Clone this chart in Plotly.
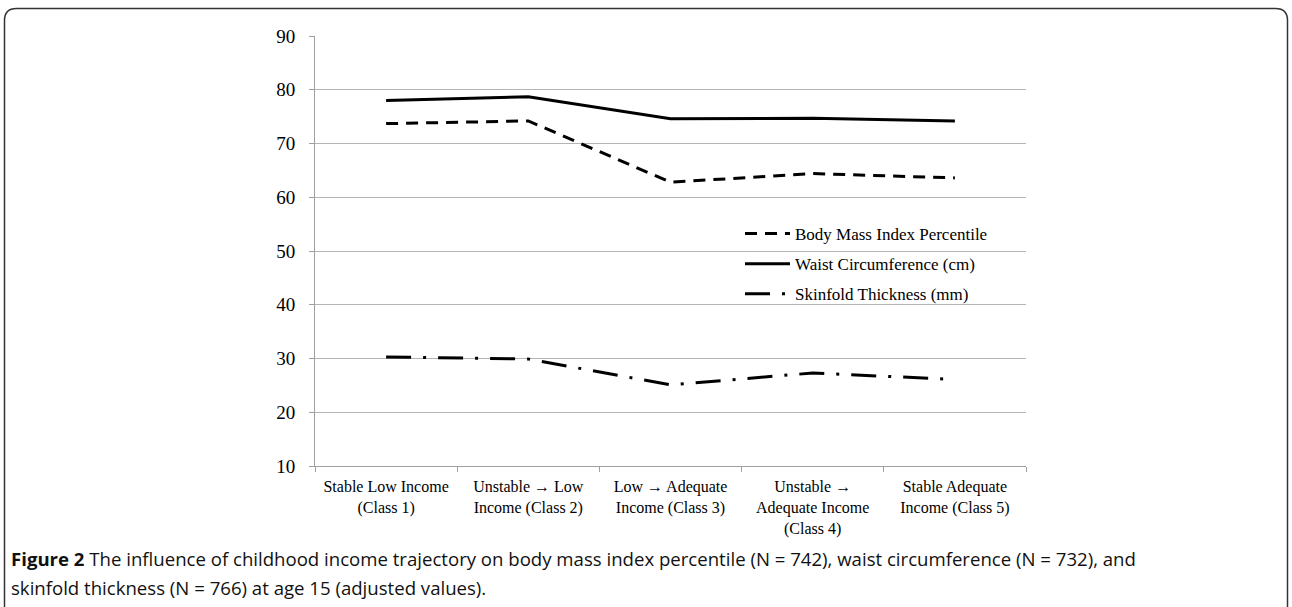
import plotly.graph_objects as go

categories = ["Stable Low Income<br>(Class 1)", "Unstable → Low<br>Income (Class 2)",
              "Low → Adequate<br>Income (Class 3)", "Unstable →<br>Adequate Income<br>(Class 4)",
              "Stable Adequate<br>Income (Class 5)"]
bmi = [73.7, 74.2, 62.8, 64.4, 63.6]
waist = [78.0, 78.7, 74.6, 74.7, 74.2]
skinfold = [30.3, 29.9, 25.1, 27.3, 26.1]

W, H = 1292, 607
L, R, T, B = 315, 1026, 36, 466
def px(x): return (x - L) / (R - L)
def py(y): return (B - y) / (B - T)

fig = go.Figure()
fig.add_trace(go.Scatter(x=categories, y=bmi, mode="lines", name="Body Mass Index Percentile",
                         legendgroup="a",
                         line=dict(color="black", width=3, dash="12px,8px")))
fig.add_trace(go.Scatter(x=categories, y=waist, mode="lines", name="Waist Circumference (cm)",
                         legendgroup="b",
                         line=dict(color="black", width=3)))
fig.add_trace(go.Scatter(x=categories, y=skinfold, mode="lines", name="Skinfold Thickness (mm)",
                         legendgroup="c",
                         line=dict(color="black", width=3, dash="25px,12px,3px,12px")))

serif = "Liberation Serif, Times New Roman, serif"
fig.update_layout(
    width=W, height=H,
    margin=dict(l=L, r=W - R, t=T, b=H - B),
    paper_bgcolor="white", plot_bgcolor="white",
    font=dict(family=serif, color="black"),
    showlegend=True,
    legend=dict(x=px(740), y=py(216), xanchor="left", yanchor="top",
                bgcolor="rgba(0,0,0,0)", font=dict(family=serif, size=17, color="black"),
                tracegroupgap=5, itemwidth=45),
    xaxis=dict(type="category", showline=True, linecolor="#a0a0a0", linewidth=1,
               ticks="outside", tickson="boundaries", ticklen=5, tickcolor="#a0a0a0",
               showgrid=False, tickfont=dict(family=serif, size=16, color="black"),
               ticklabelstandoff=6, range=[-0.5, 4.5]),
    yaxis=dict(range=[10, 90], dtick=10, showline=True, linecolor="#a0a0a0", linewidth=1,
               ticks="outside", ticklen=5, tickcolor="#a0a0a0",
               showgrid=True, gridcolor="#b4b4b4", gridwidth=1, zeroline=False,
               ticklabelstandoff=10,
               tickfont=dict(family=serif, size=19, color="black")),
)

# rounded frame around the figure panel
x0, x1, y0, y1, r = px(4.5), px(1287.5), py(8.5), py(640), 12
rx, ry = r / (R - L), r / (B - T)
path = (f"M {x0},{y1} L {x0},{y0 - ry} Q {x0},{y0} {x0 + rx},{y0} "
        f"L {x1 - rx},{y0} Q {x1},{y0} {x1},{y0 - ry} L {x1},{y1}")
fig.add_shape(type="path", path=path, xref="paper", yref="paper",
              line=dict(color="#333333", width=1.5))

caption_lines = ["<b>Figure 2</b> The influence of childhood income trajectory on body mass index percentile (N = 742), "
                 "waist circumference (N = 732), and",
                 "skinfold thickness (N = 766) at age 15 (adjusted values)."]
for line, yc in zip(caption_lines, [558, 587]):
    fig.add_annotation(text=line, xref="paper", yref="paper", x=px(9), y=py(yc),
                       xanchor="left", yanchor="middle", align="left", showarrow=False,
                       font=dict(family="Open Sans, sans-serif", size=18.6, color="#111111"))

fig.write_html("out.html", config={"displayModeBar": False},
               post_script="document.body.style.margin='0';")
